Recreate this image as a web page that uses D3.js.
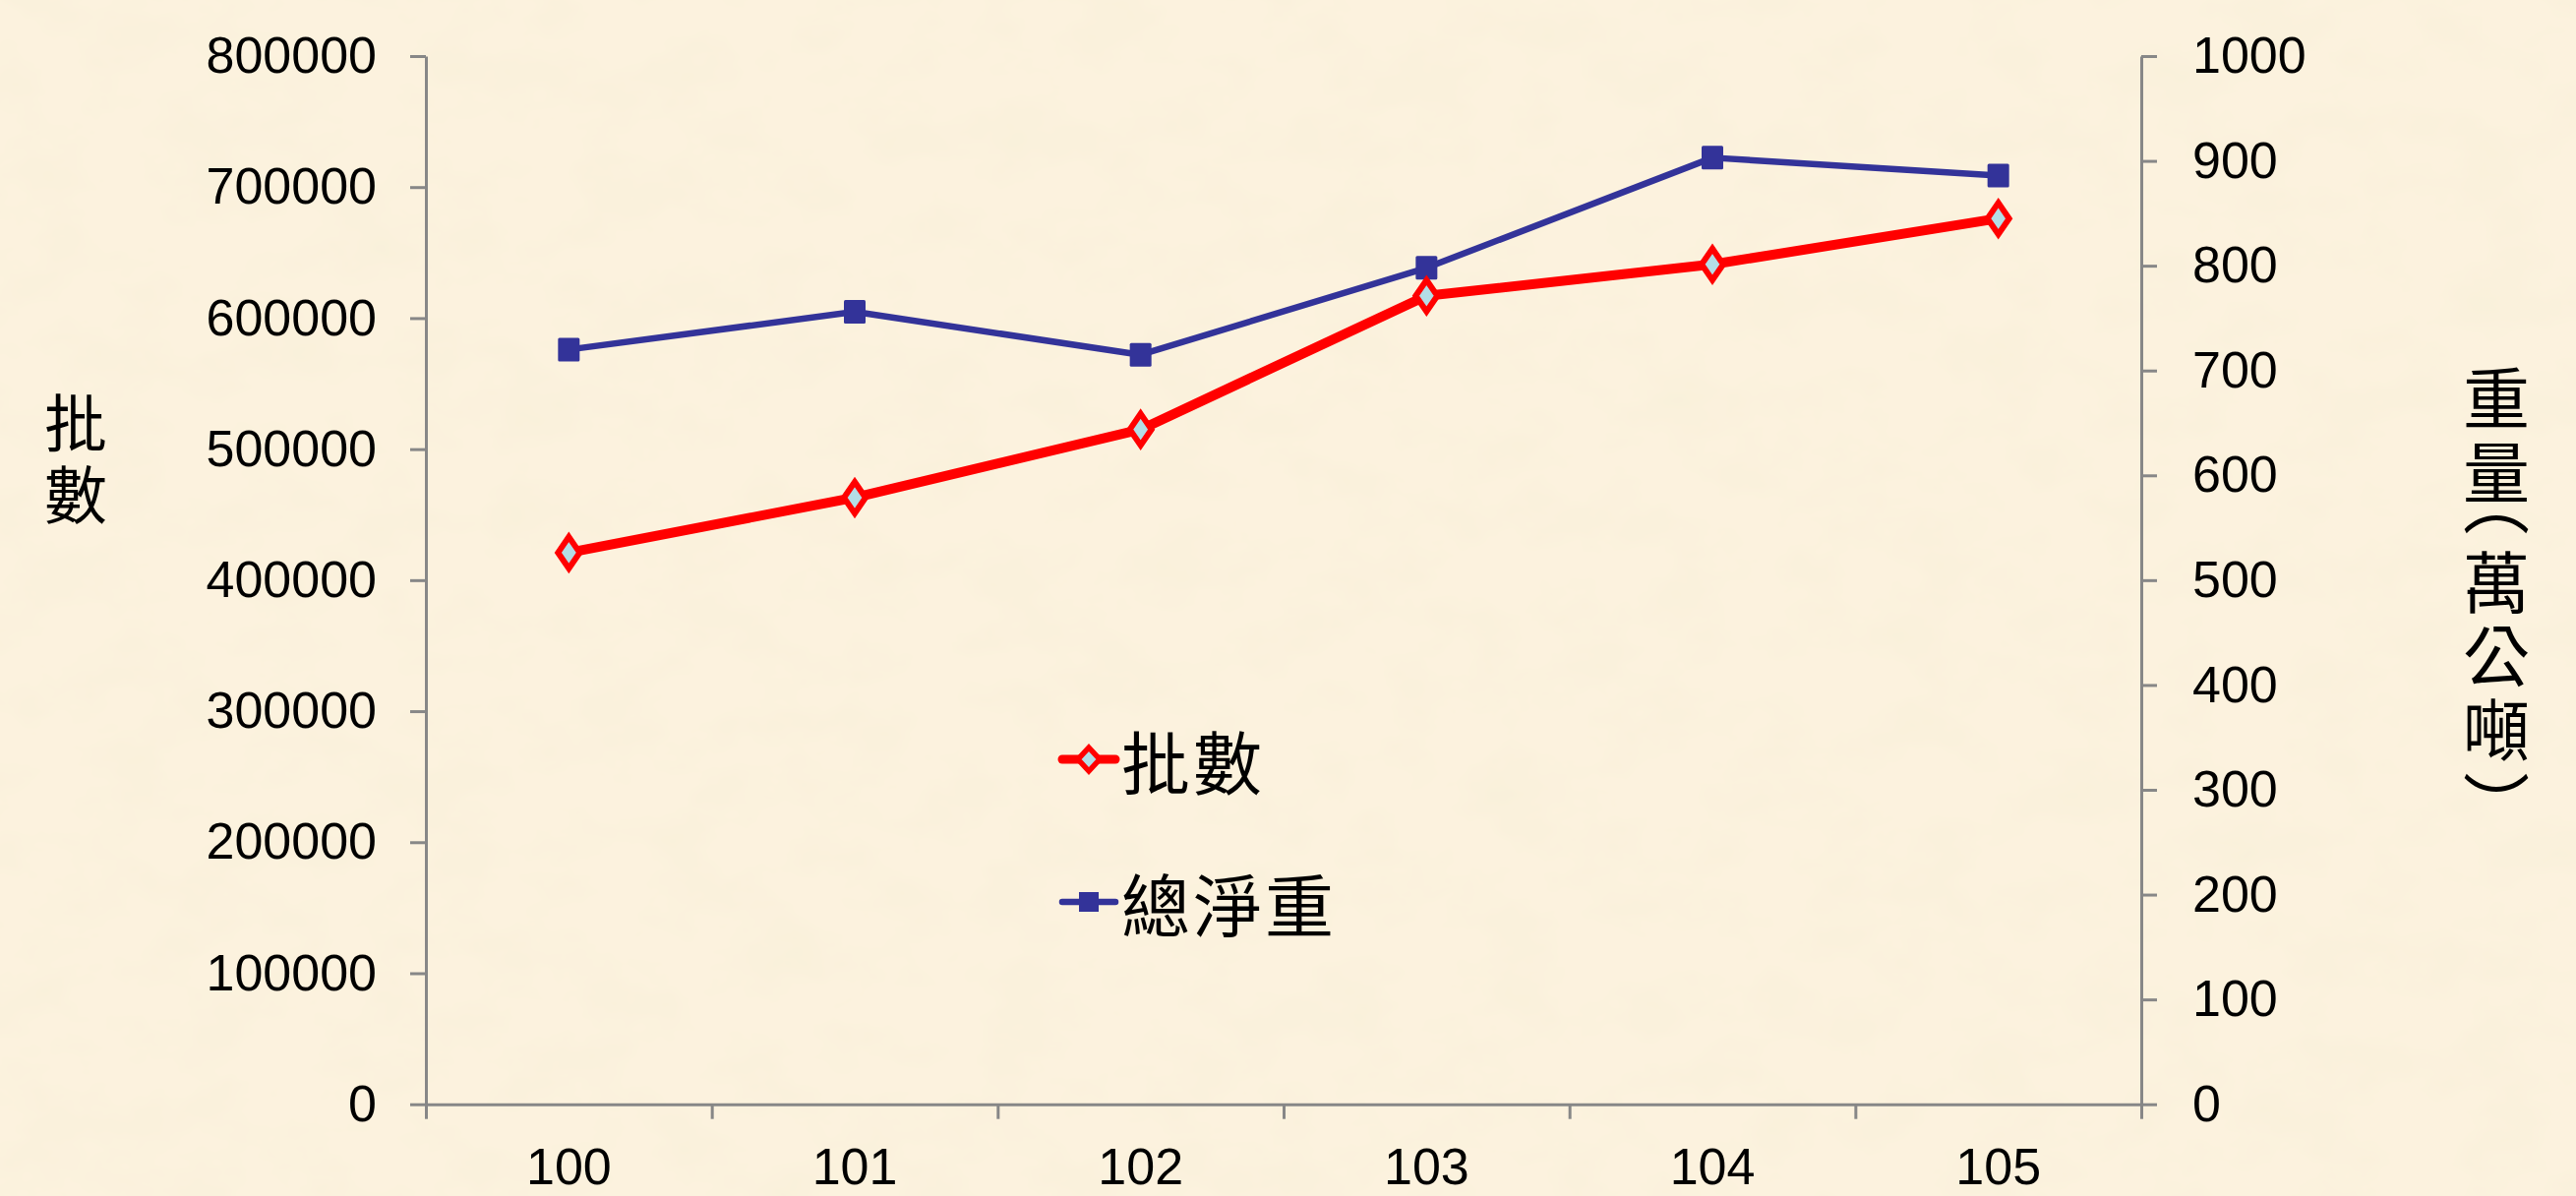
<!DOCTYPE html>
<html><head><meta charset="utf-8">
<script src="https://cdn.jsdelivr.net/npm/d3@7"></script>
<style>
body{margin:0;background:#FCF2DE;}
svg{display:block}
</style>
</head><body>
<svg id="chart" width="2619" height="1216"></svg>
<script>
// ---- data ----
const years = ["100", "101", "102", "103", "104", "105"];
const batches = [421000, 463000, 515000, 617000, 641000, 676000];   // 批數 (left axis)
const netWeight = [720, 756, 715, 798, 903, 886];                   // 總淨重 (right axis, 萬公噸)
const leftTicks = [0, 100000, 200000, 300000, 400000, 500000, 600000, 700000, 800000];
const rightTicks = [0, 100, 200, 300, 400, 500, 600, 700, 800, 900, 1000];
const seriesNames = ["批數", "總淨重"];
const leftTitleChars = ["批", "數"];
const rightTitleChars = ["重", "量", "︵", "萬", "公", "噸", "︶"];

// ---- layout ----
const W = 2619, H = 1216;
const plot = {left: 433, right: 2177, top: 57, bottom: 1122.7};
const numFont = "'Liberation Sans', Arial, sans-serif";
const cjkFont = "'Noto Sans CJK TC', 'Noto Sans CJK SC', sans-serif";
const axisColor = "#878787";
const red = "#FF0000", blue = "#333399", diamondFill = "#B4DDE6";

const svg = d3.select("#chart");

// background paper texture
const defs = svg.append("defs");
const f = defs.append("filter").attr("id", "paper").attr("x", 0).attr("y", 0).attr("width", "100%").attr("height", "100%");
f.append("feTurbulence").attr("type", "fractalNoise").attr("baseFrequency", "0.012 0.018").attr("numOctaves", 4).attr("seed", 7);
f.append("feColorMatrix").attr("type", "matrix")
  .attr("values", "0 0 0 0 0.92  0 0 0 0 0.86  0 0 0 0 0.68  0 0 0 0.9 -0.36");
svg.append("rect").attr("width", W).attr("height", H).attr("fill", "#FCF2DE");
svg.append("rect").attr("width", W).attr("height", H).attr("filter", "url(#paper)");

// ---- scales ----
const x = d3.scaleBand().domain(years).range([plot.left, plot.right]).padding(0);
const xEdge = d3.scaleLinear().domain([0, years.length]).range([plot.left, plot.right]);
const yL = d3.scaleLinear().domain([0, 800000]).range([plot.bottom, plot.top]);
const yR = d3.scaleLinear().domain([0, 1000]).range([plot.bottom, plot.top]);

function styleAxis(g) {
  g.selectAll(".domain").attr("stroke", axisColor).attr("stroke-width", 3);
  g.selectAll(".tick line").attr("stroke", axisColor).attr("stroke-width", 3);
  g.selectAll("text").attr("fill", "#000").attr("font-family", numFont).attr("font-size", 52);
}

// left axis
svg.append("g").attr("transform", `translate(${plot.left},0)`)
  .call(d3.axisLeft(yL).tickValues(leftTicks).tickFormat(d3.format("d")).tickSize(16).tickSizeOuter(0).tickPadding(34))
  .call(styleAxis);

// right axis
svg.append("g").attr("transform", `translate(${plot.right},0)`)
  .call(d3.axisRight(yR).tickValues(rightTicks).tickFormat(d3.format("d")).tickSize(16).tickSizeOuter(0).tickPadding(36))
  .call(styleAxis)
  .call(g => g.selectAll("text").attr("text-anchor", "start"));

// bottom axis: boundary ticks
svg.append("g").attr("transform", `translate(0,${plot.bottom})`)
  .call(d3.axisBottom(xEdge).tickValues(d3.range(years.length + 1)).tickFormat("").tickSize(15).tickSizeOuter(0))
  .call(styleAxis);
// bottom axis: labels
svg.append("g").attr("transform", `translate(0,${plot.bottom})`)
  .call(d3.axisBottom(x).tickSize(0).tickPadding(44))
  .call(styleAxis)
  .call(g => g.select(".domain").remove());

// ---- lines ----
const cx = (d, i) => x(years[i]) + x.bandwidth() / 2;
const lineL = d3.line().x(cx).y(d => yL(d));
const lineR = d3.line().x(cx).y(d => yR(d));

svg.append("path").datum(netWeight).attr("d", lineR)
  .attr("fill", "none").attr("stroke", blue).attr("stroke-width", 6.5).attr("stroke-linejoin", "round");
svg.append("path").datum(batches).attr("d", lineL)
  .attr("fill", "none").attr("stroke", red).attr("stroke-width", 10).attr("stroke-linejoin", "round");

// markers
const diamond = (hw, hh) => `M0,${-hh}L${hw},0L0,${hh}L${-hw},0Z`;
svg.append("g").selectAll("rect").data(netWeight).join("rect")
  .attr("x", (d, i) => cx(d, i) - 11).attr("y", d => yR(d) - 12)
  .attr("width", 22).attr("height", 24).attr("rx", 1.5)
  .attr("fill", blue);
svg.append("g").selectAll("path").data(batches).join("path")
  .attr("transform", (d, i) => `translate(${cx(d, i)},${yL(d)})`)
  .attr("d", diamond(11, 16))
  .attr("fill", diamondFill).attr("stroke", red).attr("stroke-width", 6).attr("stroke-linejoin", "miter");

// ---- legend ----
const leg = svg.append("g").attr("transform", "translate(1077,0)");
const legRows = [
  {name: seriesNames[0], color: red, w: 9, y: 772, marker: "diamond"},
  {name: seriesNames[1], color: blue, w: 6.5, y: 917, marker: "square"}
];
legRows.forEach(r => {
  leg.append("line").attr("x1", 3).attr("x2", 57).attr("y1", r.y).attr("y2", r.y)
    .attr("stroke", r.color).attr("stroke-width", r.w).attr("stroke-linecap", "round");
  if (r.marker === "diamond") {
    leg.append("path").attr("transform", `translate(30,${r.y})`).attr("d", diamond(11, 12))
      .attr("fill", diamondFill).attr("stroke", red).attr("stroke-width", 5.5);
  } else {
    leg.append("rect").attr("x", 20).attr("y", r.y - 10).attr("width", 20).attr("height", 20).attr("fill", blue);
  }
  leg.append("text").attr("x", 63).attr("y", r.y).attr("dominant-baseline", "central")
    .attr("font-family", cjkFont).attr("font-size", 70).attr("letter-spacing", 3).attr("fill", "#000")
    .text(r.name);
});

// ---- axis titles ----
svg.append("g").selectAll("text").data(leftTitleChars).join("text")
  .attr("x", 77).attr("y", (d, i) => 426 + i * 73)
  .attr("text-anchor", "middle").attr("dominant-baseline", "central")
  .attr("font-family", cjkFont).attr("font-size", 64).attr("fill", "#000")
  .text(d => d);

// right title: vertical stack, vertical-form parentheses take a half step
const isParen = c => c === "︵" || c === "︶";
const parenShift = c => c === "︵" ? -25 : (c === "︶" ? 20 : 0);  // glyph ink offset inside its em box
let ry = 401; const rPos = [];
rightTitleChars.forEach((c, i) => {
  if (i > 0) {
    const prev = rightTitleChars[i - 1];
    ry += (isParen(c) || isParen(prev)) ? 56 : 75;
  }
  rPos.push(ry);
});
svg.append("g").selectAll("text").data(rightTitleChars).join("text")
  .attr("x", 2538).attr("y", (d, i) => rPos[i] + parenShift(d))
  .attr("text-anchor", "middle").attr("dominant-baseline", "central")
  .attr("font-family", cjkFont).attr("font-size", 68).attr("fill", "#000")
  .text(d => d);
</script>
</body></html>
